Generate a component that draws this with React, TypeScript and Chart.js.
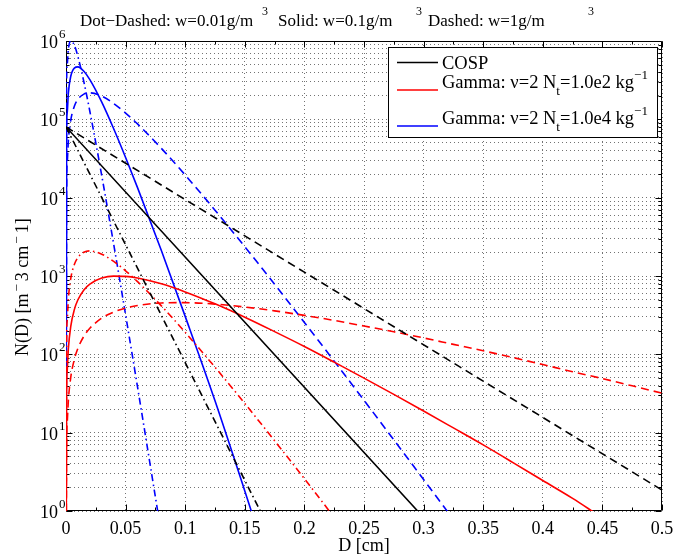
import React, { useEffect, useRef } from "react";
import { Chart, registerables } from "chart.js";
Chart.register(...registerables);

const FONT = '"Liberation Serif", "Times New Roman", Times, serif';

// ---- axes ----
const X_MIN = 0;
const X_MAX = 0.5;
const X_MAJOR = [0, 0.05, 0.1, 0.15, 0.2, 0.25, 0.3, 0.35, 0.4, 0.45, 0.5];
const X_LABELS = ["0", "0.05", "0.1", "0.15", "0.2", "0.25", "0.3", "0.35", "0.4", "0.45", "0.5"];
const X_MINOR = [0.025, 0.075, 0.125, 0.175, 0.225, 0.275, 0.325, 0.375, 0.425, 0.475];
const Y_MIN = 1;
const Y_MAX = 1e6;
const Y_EXPONENTS = [0, 1, 2, 3, 4, 5, 6];
const Y_MINOR_MULT = [2, 3, 4, 5, 6, 7, 8, 9];

// ---- COSP (exponential) lines ----
const COSP_SOLID_D = [0, 0.295];
const COSP_SOLID_N = [80000, 1];
const COSP_DASHED_D = [0, 0.5];
const COSP_DASHED_N = [80000, 1.85];
const COSP_DASHDOT_D = [0, 0.163];
const COSP_DASHDOT_N = [80000, 1];

// ---- Gamma curves (shared diameter grid, cm) ----
const GAMMA_D = [0, 0.0005, 0.001, 0.002, 0.004, 0.007, 0.01, 0.015, 0.02, 0.03, 0.04, 0.05, 0.06, 0.08, 0.1,
  0.125, 0.15, 0.175, 0.2, 0.225, 0.25, 0.275, 0.3, 0.325, 0.35, 0.375, 0.4, 0.425, 0.45, 0.475, 0.5];

// Nt = 1.0e2 kg^-1 (red)
const RED_SOLID = [0.01, 30.9, 61.1, 119, 228, 372, 497, 664, 789, 940, 996, 989, 943, 794, 627, 441, 298, 195,
  126, 79.5, 49.7, 30.8, 18.9, 11.5, 6.98, 4.15, 2.45, 1.45, 0.82, 0.48, 0.28];
const RED_DASHED = [0.01, 6.6, 13.2, 26.0, 51, 86.4, 119.5, 170, 215, 290, 347, 390, 420, 453, 457, 438, 402, 359,
  314, 271, 230, 194, 162, 134, 111, 91, 74, 60, 49, 39.6, 31.9];
const RED_DASHDOT = [0.01, 138.5, 270, 514, 930, 1401, 1722, 2012, 2090, 1901, 1537, 1166, 848, 416, 191, 68.5,
  23.6, 7.88, 2.58, 0.83];

// Nt = 1.0e4 kg^-1 (blue)
const BLUE_SOLID = [0.01, 64400, 122100, 219500, 354600, 450400, 467100, 410800, 321000, 165500, 75830, 32600,
  13446, 2117, 305, 25.5, 1.8, 0.12];
const BLUE_DASHED = [0.01, 14516, 28311, 53848, 97395, 146560, 180020, 210010, 217740, 197470, 159210, 120360,
  87345, 42583, 19464, 6925, 2365, 786, 255, 81.9, 25.9, 8.1, 2.52, 0.78];
const BLUE_DASHDOT = [0.01, 281000, 501000, 796200, 1005200, 882400, 632500, 300300, 126750, 19070, 2548, 319,
  38.4, 0.51];

const BLACK = "#000000";
const RED = "#ff0000";
const BLUE = "#0000ff";
const DASH = [8, 5];
const DASHDOT = [7, 3.5, 1.5, 3.5];

type Piece = { t: string; size: number; dy?: number; gap?: number };

function drawPieces(ctx: CanvasRenderingContext2D, x: number, y: number, pieces: Piece[]) {
  let cx = x;
  for (const p of pieces) {
    cx += p.gap || 0;
    ctx.font = `${p.size}px ${FONT}`;
    ctx.fillText(p.t, cx, y + (p.dy || 0));
    cx += ctx.measureText(p.t).width;
  }
  return cx;
}

const framePlugin = {
  id: "frame",
  beforeDatasetsDraw(chart: any) {
    const ctx: CanvasRenderingContext2D = chart.ctx;
    const { left, right, top, bottom } = chart.chartArea;
    const xs = chart.scales.x;
    const ys = chart.scales.y;
    ctx.save();
    ctx.strokeStyle = "#000";
    ctx.lineWidth = 1;
    ctx.setLineDash([]);
    ctx.beginPath();
    const L = Math.round(left) + 0.5, R = Math.round(right) - 0.5;
    const T = Math.round(top) + 0.5, B = Math.round(bottom) - 0.5;
    ctx.rect(L, T, R - L, B - T);
    for (const e of Y_EXPONENTS) {
      const y = Math.round(ys.getPixelForValue(Math.pow(10, e))) + 0.5;
      ctx.moveTo(L, y); ctx.lineTo(L + 6, y);
      ctx.moveTo(R, y); ctx.lineTo(R - 6, y);
      if (e < 6) {
        for (const m of Y_MINOR_MULT) {
          const ym = Math.round(ys.getPixelForValue(m * Math.pow(10, e))) + 0.5;
          ctx.moveTo(L, ym); ctx.lineTo(L + 3, ym);
          ctx.moveTo(R, ym); ctx.lineTo(R - 3, ym);
        }
      }
    }
    for (const v of X_MAJOR) {
      const x = Math.round(xs.getPixelForValue(v)) + 0.5;
      ctx.moveTo(x, B); ctx.lineTo(x, B - 6);
      ctx.moveTo(x, T); ctx.lineTo(x, T + 6);
    }
    for (const v of X_MINOR) {
      const x = Math.round(xs.getPixelForValue(v)) + 0.5;
      ctx.moveTo(x, B); ctx.lineTo(x, B - 3);
      ctx.moveTo(x, T); ctx.lineTo(x, T + 3);
    }
    ctx.stroke();

    ctx.fillStyle = "#000";
    ctx.textBaseline = "alphabetic";
    for (let i = 0; i < X_MAJOR.length; i++) {
      const x = xs.getPixelForValue(X_MAJOR[i]);
      ctx.font = `18px ${FONT}`;
      ctx.textAlign = "center";
      ctx.fillText(X_LABELS[i], x, bottom + 23);
    }
    ctx.textAlign = "left";
    for (const e of Y_EXPONENTS) {
      const y = ys.getPixelForValue(Math.pow(10, e));
      ctx.font = `18px ${FONT}`;
      const w = ctx.measureText("10").width;
      ctx.fillText("10", 58 - w, y + 7);
      ctx.font = `13px ${FONT}`;
      ctx.fillText(String(e), 59, y - 3);
    }
    ctx.font = `18px ${FONT}`;
    ctx.textAlign = "center";
    ctx.fillText("D [cm]", (left + right) / 2, bottom + 40);
    ctx.save();
    ctx.translate(28, 356);
    ctx.rotate(-Math.PI / 2);
    ctx.textAlign = "left";
    drawPieces(ctx, 0, 0, [
      { t: "N(D) [m", size: 18 },
      { t: "\u2212", size: 13, dy: -7, gap: 2 },
      { t: "3 cm", size: 18, gap: 3 },
      { t: "\u2212", size: 13, dy: -7, gap: 2 },
      { t: "1]", size: 18, gap: 3 },
    ]);
    ctx.restore();
    ctx.textAlign = "left";
    drawPieces(ctx, 80, 26, [{ t: "Dot\u2212Dashed: w=0.01g/m", size: 17 }]);
    drawPieces(ctx, 262, 15, [{ t: "3", size: 12 }]);
    drawPieces(ctx, 278, 26, [{ t: "Solid: w=0.1g/m", size: 17 }]);
    drawPieces(ctx, 416, 15, [{ t: "3", size: 12 }]);
    drawPieces(ctx, 428, 26, [{ t: "Dashed: w=1g/m", size: 17 }]);
    drawPieces(ctx, 588, 15, [{ t: "3", size: 12 }]);
    ctx.restore();
  },
  afterDatasetsDraw(chart: any) {
    const ctx: CanvasRenderingContext2D = chart.ctx;
    ctx.save();
    ctx.fillStyle = "#fff";
    ctx.fillRect(388, 47, 270, 91);
    ctx.strokeStyle = "#000";
    ctx.lineWidth = 1;
    ctx.setLineDash([]);
    ctx.strokeRect(388.5, 47.5, 269, 90);
    const samples = [
      { c: BLACK, y: 62.5 },
      { c: RED, y: 90 },
      { c: BLUE, y: 126 },
    ];
    ctx.lineWidth = 1.6;
    for (const s of samples) {
      ctx.strokeStyle = s.c;
      ctx.beginPath();
      ctx.moveTo(397, s.y);
      ctx.lineTo(438, s.y);
      ctx.stroke();
    }
    ctx.fillStyle = "#000";
    ctx.textAlign = "left";
    drawPieces(ctx, 442, 69, [{ t: "COSP", size: 18.5 }]);
    drawPieces(ctx, 442, 88, [
      { t: "Gamma: \u03bd=2 N", size: 18.5 },
      { t: "t", size: 13, dy: 7 },
      { t: "=1.0e2 kg", size: 18.5 },
      { t: "\u22121", size: 13, dy: -9 },
    ]);
    drawPieces(ctx, 442, 124, [
      { t: "Gamma: \u03bd=2 N", size: 18.5 },
      { t: "t", size: 13, dy: 7 },
      { t: "=1.0e4 kg", size: 18.5 },
      { t: "\u22121", size: 13, dy: -9 },
    ]);
    ctx.restore();
  },
};

function pts(d: number[], n: number[]) {
  return n.map((v, i) => ({ x: d[i], y: v }));
}

function ds(label: string, d: number[], n: number[], color: string, dash: number[]) {
  return {
    label,
    data: pts(d, n),
    borderColor: color,
    backgroundColor: color,
    borderWidth: 1.6,
    borderDash: dash,
    pointRadius: 0,
    fill: false,
    cubicInterpolationMode: "monotone" as const,
  };
}

export default function App() {
  const ref = useRef<HTMLCanvasElement | null>(null);
  useEffect(() => {
    if (!ref.current) return;
    const yTicks: number[] = [];
    for (const e of Y_EXPONENTS) {
      yTicks.push(Math.pow(10, e));
      if (e < 6) for (const m of Y_MINOR_MULT) yTicks.push(m * Math.pow(10, e));
    }
    const chart = new Chart(ref.current, {
      type: "line",
      data: {
        datasets: [
          ds("COSP", COSP_SOLID_D, COSP_SOLID_N, BLACK, []),
          ds("COSP dashed", COSP_DASHED_D, COSP_DASHED_N, BLACK, DASH),
          ds("COSP dashdot", COSP_DASHDOT_D, COSP_DASHDOT_N, BLACK, DASHDOT),
          ds("Gamma Nt=1e2", GAMMA_D, RED_SOLID, RED, []),
          ds("Gamma Nt=1e2 dashed", GAMMA_D, RED_DASHED, RED, DASH),
          ds("Gamma Nt=1e2 dashdot", GAMMA_D, RED_DASHDOT, RED, DASHDOT),
          ds("Gamma Nt=1e4", GAMMA_D, BLUE_SOLID, BLUE, []),
          ds("Gamma Nt=1e4 dashed", GAMMA_D, BLUE_DASHED, BLUE, DASH),
          ds("Gamma Nt=1e4 dashdot", GAMMA_D, BLUE_DASHDOT, BLUE, DASHDOT),
        ],
      },
      options: {
        animation: false,
        responsive: false,
        devicePixelRatio: 1,
        layout: { padding: { left: 0, top: 41, right: 11, bottom: 0 } },
        plugins: { legend: { display: false }, tooltip: { enabled: false }, title: { display: false } },
        scales: {
          x: {
            type: "linear",
            min: X_MIN,
            max: X_MAX,
            ticks: { display: false },
            afterBuildTicks: (s: any) => { s.ticks = X_MAJOR.map((v) => ({ value: v })); },
            afterFit: (s: any) => { s.height = 46; },
            grid: { color: "rgba(0,0,0,0.55)", lineWidth: 1, drawTicks: false },
            border: { display: false, dash: [1, 3] },
          },
          y: {
            type: "logarithmic",
            min: Y_MIN,
            max: Y_MAX,
            ticks: { display: false },
            afterBuildTicks: (s: any) => { s.ticks = yTicks.map((v) => ({ value: v })); },
            afterFit: (s: any) => { s.width = 66; },
            grid: { color: "rgba(0,0,0,0.55)", lineWidth: 1, drawTicks: false },
            border: { display: false, dash: [1, 3] },
          },
        },
      },
      plugins: [framePlugin],
    });
    return () => chart.destroy();
  }, []);
  return (
    <div style={{ position: "fixed", left: 0, top: 0, width: 673, height: 557, background: "#fff" }}>
      <canvas ref={ref} width={673} height={557} style={{ width: 673, height: 557, display: "block" }} />
    </div>
  );
}
